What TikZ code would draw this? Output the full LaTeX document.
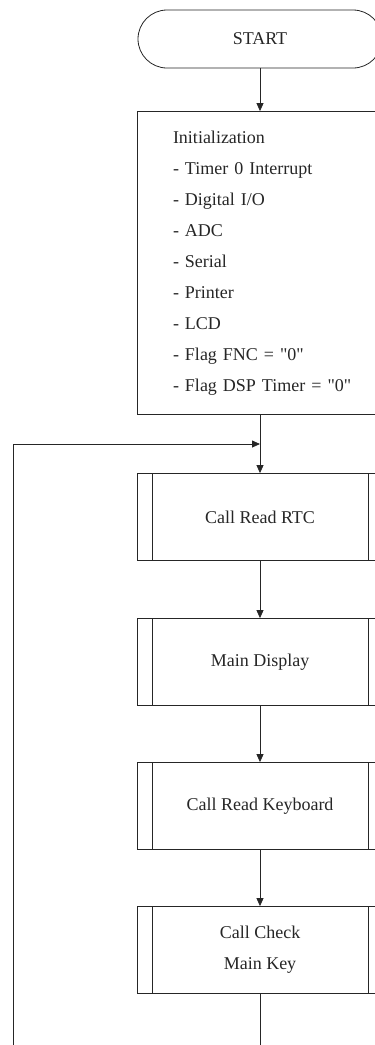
\documentclass[tikz,border=0pt]{standalone}
\usepackage{fontspec}
\setmainfont{Liberation Serif}
\usetikzlibrary{arrows.meta}

\tikzset{
  term/.style={draw, rounded corners=29pt, minimum width=244pt, minimum height=58pt},
  initbox/.style={draw, minimum width=262pt, minimum height=303pt, text width=190pt,
                  inner xsep=36pt, align=left},
  subproc/.style={draw, minimum width=246pt, minimum height=87pt, align=center,
    path picture={
      \draw ([xshift=15pt]path picture bounding box.north west) -- ([xshift=15pt]path picture bounding box.south west)
            ([xshift=-15pt]path picture bounding box.north east) -- ([xshift=-15pt]path picture bounding box.south east);}},
}
\newcommand{\qq}{\textquotedbl}

\begin{document}
\begin{tikzpicture}[x=1pt, y=-1pt, line width=0.8pt, color=black!85,
    font=\fontsize{18}{31}\selectfont, >={Triangle[length=8pt,width=7pt]}]
  \useasboundingbox (0,0) rectangle (375,1045);
  \clip (0,0) rectangle (375,1045);
  \node[term] (start) at (260,39) {START};
  % right side runs off the page
  \node[initbox] (init) at (268,263) {Initialization\\- Timer 0 Interrupt\\- Digital I/O\\- ADC\\- Serial\\- Printer\\- LCD\\- Flag FNC = \qq0\qq\\- Flag DSP Timer = \qq0\qq};
  \foreach \y/\nm/\txt in {517/rtc/Call Read RTC, 662/disp/Main Display, 806/kbd/Call Read Keyboard, 950/chk/{Call Check\\Main Key}}{
    \node[subproc] (\nm) at (260,\y) {\txt};
  }
  \coordinate (join) at (260,444);
  \coordinate (down) at (260,1050);
  \coordinate (back) at (13,1050);
  \draw[->] (start) -- (start.south |- init.north);
  \draw (init.south -| join) -- (join);
  \draw[->] (join) -- (rtc);
  \foreach \a/\b in {rtc/disp, disp/kbd, kbd/chk}{ \draw[->] (\a) -- (\b); }
  \draw (chk) -- (down);
  % loop back from further down
  \draw[->] (back) |- (join);
\end{tikzpicture}
\end{document}
